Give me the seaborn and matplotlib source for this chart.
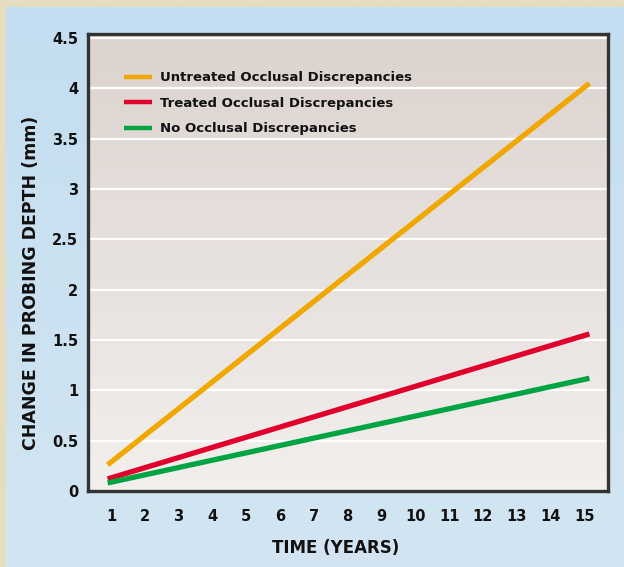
import numpy as np
import pandas as pd
import matplotlib
matplotlib.use("Agg")
import matplotlib.pyplot as plt
import seaborn as sns

# ---- data ----
years = [0.9, 15.15]
untreated = [0.26, 4.05]
treated = [0.12, 1.56]
no_disc = [0.08, 1.12]
series_names = ["Untreated Occlusal Discrepancies",
                "Treated Occlusal Discrepancies",
                "No Occlusal Discrepancies"]
x_ticks = list(range(1, 16))
y_ticks = [0, 0.5, 1, 1.5, 2, 2.5, 3, 3.5, 4, 4.5]
y_tick_labels = ["0", "0.5", "1", "1.5", "2", "2.5", "3", "3.5", "4", "4.5"]
colors = ["#f0a800", "#e1002b", "#00a443"]

df = pd.concat([
    pd.DataFrame({"year": years, "value": vals, "series": name})
    for name, vals in zip(series_names, [untreated, treated, no_disc])
], ignore_index=True)

sns.set_theme(style="white")
plt.rcParams['font.family'] = ['DejaVu Sans']

fig = plt.figure(figsize=(6.24, 5.67), dpi=100)
fig.patch.set_facecolor("#e6ddc0")

# light-blue panel with soft vertical gradient
bg_ax = fig.add_axes([6/624, 0, 1 - 6/624, 1 - 7/567])
bg_ax.set_zorder(0)
bg_cmap = matplotlib.colors.LinearSegmentedColormap.from_list("panel", ["#d3e5f2", "#c3def0"])
bg_ax.imshow(np.linspace(0, 1, 256).reshape(-1, 1), extent=[0, 1, 0, 1], origin="lower",
             aspect="auto", cmap=bg_cmap)
bg_ax.set_axis_off()

ax = fig.add_axes([88/624, 1 - 491/567, (608-88)/624, (491-34)/567])
ax.set_zorder(2)
ax.set_xlim(0.32, 15.7)
ax.set_ylim(0, 4.54)

# gradient plot background
grad = np.linspace(0, 1, 256).reshape(-1, 1)
cmap = matplotlib.colors.LinearSegmentedColormap.from_list("bg", ["#f2efed", "#dcd3ce"])
ax.imshow(grad, extent=[0.32, 15.7, 0, 4.54], origin="lower", aspect="auto",
          cmap=cmap, zorder=0)

for yv in y_ticks[1:]:
    ax.axhline(yv, color="white", lw=1.6, zorder=1)

sns.lineplot(data=df, x="year", y="value", hue="series", palette=colors,
             hue_order=series_names, lw=3.8, ax=ax, zorder=3,
             solid_capstyle="butt", legend=True)

ax.set_xticks(x_ticks)
ax.set_xticklabels([str(v) for v in x_ticks], fontsize=10.5, fontweight="bold", color="#111111")
ax.set_yticks(y_ticks)
ax.set_yticklabels(y_tick_labels, fontsize=10.5, fontweight="bold", color="#111111")
ax.tick_params(axis="x", length=0, pad=13)
ax.tick_params(axis="y", length=0, pad=7)
for s in ax.spines.values():
    s.set_color("#333333")
    s.set_linewidth(2.4)
    s.set_visible(True)

ax.set_xlabel("TIME (YEARS)", fontsize=12, fontweight="bold", color="#111111")
ax.set_ylabel("CHANGE IN PROBING DEPTH (mm)", fontsize=12.5, fontweight="bold", color="#111111")
ax.xaxis.set_label_coords(0.477, -0.105)
ax.yaxis.set_label_coords(-0.092, 0.455)

leg = ax.legend(loc="upper left", bbox_to_anchor=(0.054, 0.936), frameon=False,
                handlelength=2.1, handletextpad=0.6, labelspacing=0.95,
                borderaxespad=0.3, borderpad=0.3,
                prop={"weight": "bold", "size": 9.5})
for t in leg.get_texts():
    t.set_color("#111111")
for line in leg.get_lines():
    line.set_linewidth(3.2)
ax.set_xlim(0.32, 15.7)
ax.set_ylim(0, 4.54)

fig.savefig("out.png", dpi=100, facecolor=fig.get_facecolor())
